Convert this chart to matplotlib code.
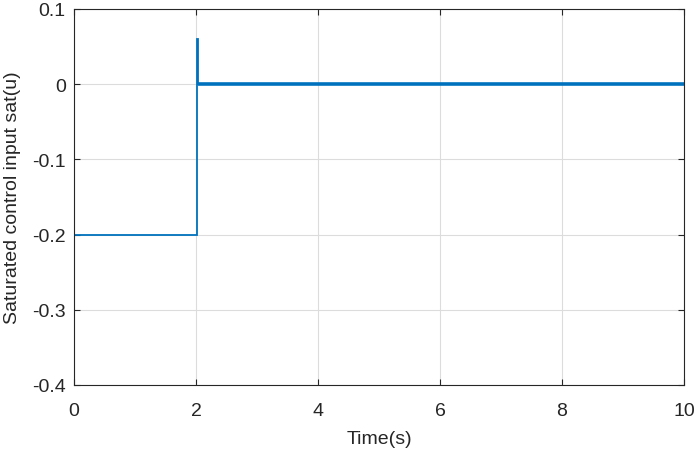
import matplotlib
matplotlib.use('Agg')
import matplotlib.pyplot as plt

# step / spike part of the signal
t_step = [0.0, 2.02, 2.02, 2.03, 2.03]
u_step = [-0.2, -0.2, 0.06, 0.06, 0.0]

# settled part after the spike (small jitter around zero)
t_rest = [2.03, 10.0]
u_rest = [0.0, 0.0]

x_ticks = [0, 2, 4, 6, 8, 10]
y_ticks = [-0.4, -0.3, -0.2, -0.1, 0, 0.1]
y_labels = ['-0.4', '-0.3', '-0.2', '-0.1', '0', '0.1']

plt.rcParams['font.family'] = ['Liberation Sans', 'DejaVu Sans']

fig = plt.figure(figsize=(6.99, 4.56), dpi=100)
ax = fig.add_axes([74 / 699, 1 - 386 / 456, (684 - 74) / 699, (386 - 10) / 456])

blue = '#0072BD'
ax.plot(t_step, u_step, color=blue, linewidth=1.3, solid_joinstyle='miter')
ax.plot(t_rest, u_rest, color=blue, linewidth=2.6, solid_capstyle='butt')

ax.set_xlim(0, 10)
ax.set_ylim(-0.4, 0.1)
ax.set_xticks(x_ticks)
ax.set_yticks(y_ticks)
ax.set_yticklabels(y_labels)

ax.grid(True, color='#dcdcdc', linewidth=0.8)
ax.set_axisbelow(True)
for s in ax.spines.values():
    s.set_color('#262626')
    s.set_linewidth(0.8)
ax.tick_params(direction='in', length=4, width=0.8, color='#262626',
               labelcolor='#262626', labelsize=14, top=True, right=True,
               labeltop=False, labelright=False)
ax.tick_params(axis='x', pad=12)
ax.tick_params(axis='y', pad=6)

ax.set_xlabel('Time(s)', fontsize=14, color='#262626', labelpad=8)
ax.set_ylabel('Saturated control input sat(u)', fontsize=14, color='#262626', labelpad=8)

fig.savefig('out.png', dpi=100)
